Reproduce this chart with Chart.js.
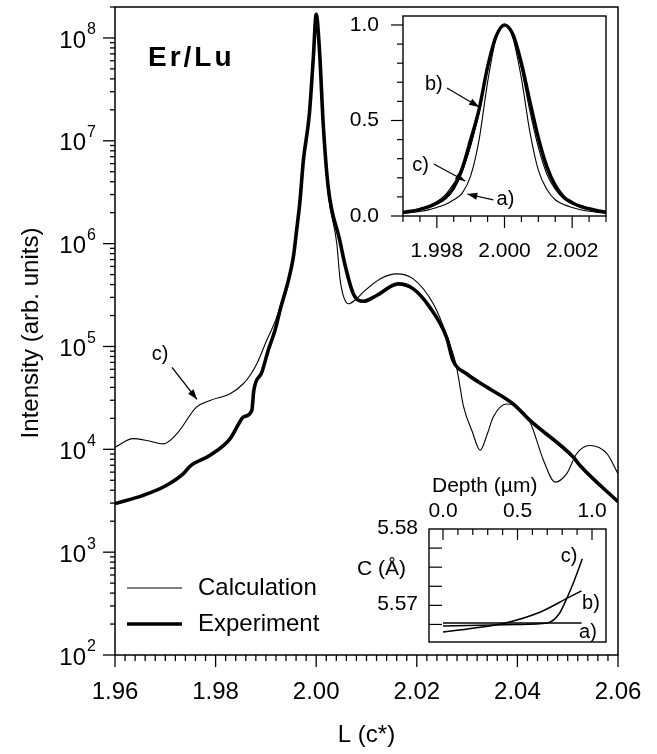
<!DOCTYPE html>
<html>
<head>
<meta charset="utf-8">
<title>Er/Lu</title>
<script src="https://cdn.jsdelivr.net/npm/chart.js@4.4.1/dist/chart.umd.min.js"></script>
<style>
  body { margin: 0; background: #fff; }
  #wrap { position: relative; width: 657px; height: 754px; }
  #wrap canvas { position: absolute; }
</style>
</head>
<body>
<div id="wrap">
  <canvas id="main" width="657" height="754" style="left:0;top:0"></canvas>
  <canvas id="peak" width="290" height="270" style="left:340px;top:0"></canvas>
  <canvas id="depth" width="290" height="190" style="left:340px;top:465px"></canvas>
</div>
<script>
// main scan along L (c*), intensity in arb. units
const calcL = [1.9600, 1.9636, 1.9663, 1.9696, 1.9723, 1.9762, 1.9789, 1.9829, 1.9855, 1.9868,
  1.9882, 1.9900, 1.9921, 1.9935, 1.99545, 1.9961, 1.99744, 1.99863, 1.99943, 2.0000,
  2.0007, 2.0014, 2.0024, 2.0041, 2.0047, 2.0054, 2.0064, 2.0080, 2.0094, 2.0127,
  2.0160, 2.0193, 2.0233, 2.0259, 2.0279, 2.0293, 2.0310, 2.0326, 2.0340, 2.0352,
  2.0379, 2.0395, 2.0425, 2.0452, 2.0475, 2.0498, 2.0518, 2.0544, 2.0578, 2.0600];
const calcI = [1.05e4, 1.27e4, 1.22e4, 1.13e4, 1.42e4, 2.57e4, 2.99e4, 3.47e4, 4.34e4, 5.2e4,
  6.8e4, 1.1e5, 1.9e5, 3.2e5, 7.4e5, 1.34e6, 6.4e6, 1.8e7, 6.45e7, 1.7e8,
  7.2e7, 1.3e7, 3.0e6, 1.0e6, 4.7e5, 3.1e5, 2.6e5, 2.9e5, 3.4e5, 4.54e5,
  5.08e5, 4.54e5, 2.59e5, 1.3e5, 6.3e4, 2.6e4, 1.5e4, 9.8e3, 1.4e4, 2.06e4,
  2.76e4, 2.67e4, 1.84e4, 7.8e3, 4.8e3, 5.8e3, 9.1e3, 1.09e4, 9.1e3, 5.8e3];
const expL = [1.9600, 1.9656, 1.9700, 1.9736, 1.9749, 1.9789, 1.9829, 1.9848, 1.9855, 1.9872,
  1.9876, 1.9892, 1.9905, 1.9918, 1.9928, 1.99446, 1.99545, 1.9961, 1.99678, 1.99744,
  1.99863, 1.99943, 2.0000, 2.00066, 2.0014, 2.0024, 2.0047, 2.0057, 2.0074, 2.0094,
  2.0120, 2.0163, 2.0193, 2.0226, 2.0259, 2.0272, 2.0299, 2.0339, 2.0392, 2.0425,
  2.0511, 2.0524, 2.0600];
const expI = [2970, 3570, 4400, 5810, 6840, 8750, 12700, 18400, 20600, 23900,
  37400, 56200, 9.3e4, 1.43e5, 2.24e5, 4.37e5, 7.36e5, 1.34e6, 2.61e6, 6.4e6,
  1.8e7, 6.45e7, 1.7e8, 7.5e7, 1.44e7, 3.5e6, 1.07e6, 6.3e5, 3.24e5, 2.75e5,
  3.13e5, 4.06e5, 3.63e5, 2.40e5, 1.23e5, 7.3e4, 5.43e4, 4.03e4, 2.75e4, 1.91e4,
  8.4e3, 7.0e3, 3.09e3];
const xTicks = [1.96, 1.98, 2.00, 2.02, 2.04, 2.06];
const yExps = [2, 3, 4, 5, 6, 7, 8];

// upper inset: normalised peak around L = 2
const peakL = [1.99700, 1.99725, 1.99750, 1.99775, 1.99800, 1.99825, 1.99850, 1.99875, 1.99900, 1.99925,
  1.99950, 1.99975, 2.00000, 2.00025, 2.00050, 2.00075, 2.00100, 2.00125, 2.00150, 2.00175,
  2.00200, 2.00225, 2.00250, 2.00275, 2.00300];
const peakExp = [0.020, 0.025, 0.035, 0.048, 0.068, 0.095, 0.15, 0.25, 0.40, 0.56,
  0.78, 0.94, 1.00, 0.95, 0.80, 0.60, 0.41, 0.26, 0.16, 0.10,
  0.070, 0.050, 0.038, 0.028, 0.020];
const peakA = [0.014, 0.018, 0.024, 0.032, 0.045, 0.06, 0.085, 0.12, 0.21, 0.40,
  0.70, 0.93, 1.00, 0.93, 0.72, 0.44, 0.24, 0.14, 0.085, 0.06,
  0.045, 0.033, 0.025, 0.019, 0.015];
const peakB = [0.018, 0.023, 0.032, 0.044, 0.062, 0.088, 0.14, 0.23, 0.37, 0.54,
  0.77, 0.94, 1.00, 0.94, 0.77, 0.55, 0.36, 0.22, 0.14, 0.09,
  0.063, 0.045, 0.034, 0.025, 0.018];
const peakC = [0.022, 0.028, 0.038, 0.052, 0.075, 0.11, 0.17, 0.24, 0.37, 0.55,
  0.78, 0.94, 1.00, 0.95, 0.79, 0.58, 0.39, 0.24, 0.15, 0.095,
  0.066, 0.048, 0.036, 0.027, 0.020];
const peakTicks = [1.998, 2.000, 2.002];
const peakYTicks = [0.0, 0.5, 1.0];

// lower inset: lattice parameter C (Å) against depth (µm)
const depthA = [0.0, 0.93];
const cA = [5.5677, 5.5677];
const depthB = [0.0, 0.2, 0.42, 0.65, 0.85, 0.93];
const cB = [5.5665, 5.5670, 5.5677, 5.5691, 5.5711, 5.5719];
const depthC = [0.0, 0.5, 0.70, 0.78, 0.835, 0.88, 0.935];
const cC = [5.5673, 5.5675, 5.5677, 5.5689, 5.5711, 5.5732, 5.5761];
const depthTicks = [0.0, 0.5, 1.0];
const cTicks = [5.57, 5.58];

const FONT = '"Liberation Sans", Arial, Helvetica, sans-serif';

function seg(ctx, x1, y1, x2, y2) {
  ctx.beginPath(); ctx.moveTo(x1, y1); ctx.lineTo(x2, y2); ctx.stroke();
}

function arrow(ctx, x1, y1, x2, y2) {
  seg(ctx, x1, y1, x2, y2);
  const a = Math.atan2(y2 - y1, x2 - x1), h = 10, w = 3.5;
  ctx.beginPath();
  ctx.moveTo(x2, y2);
  ctx.lineTo(x2 - h * Math.cos(a) + w * Math.sin(a), y2 - h * Math.sin(a) - w * Math.cos(a));
  ctx.lineTo(x2 - h * Math.cos(a) - w * Math.sin(a), y2 - h * Math.sin(a) + w * Math.cos(a));
  ctx.closePath(); ctx.fill();
}

function pts(xs, ys) { return xs.map((x, i) => ({ x: x, y: ys[i] })); }

function curve(label, xs, ys, width) {
  return { label: label, data: pts(xs, ys), borderColor: '#000', borderWidth: width,
    pointRadius: 0, fill: false, cubicInterpolationMode: 'monotone' };
}

// scales drawn by hand in the plugins, Chart.js only does the mapping
function bareScale(type, min, max, fit) {
  return { type: type, min: min, max: max, afterFit: fit,
    ticks: { display: false }, grid: { display: false }, border: { display: false } };
}

function baseOptions(pad, xs, ys) {
  return { responsive: false, animation: false, layout: { padding: pad },
    plugins: { legend: { display: false }, tooltip: { enabled: false } },
    scales: { x: xs, y: ys } };
}

const mainDeco = {
  id: 'mainDeco',
  afterDraw(chart) {
    const ctx = chart.ctx, a = chart.chartArea, x = chart.scales.x, y = chart.scales.y;
    ctx.save();
    ctx.strokeStyle = '#000'; ctx.fillStyle = '#000';
    ctx.lineWidth = 1.5;
    ctx.strokeRect(a.left, a.top, a.right - a.left, a.bottom - a.top);
    ctx.lineWidth = 1.3;
    for (let i = 0; i <= 50; i++) {
      const px = x.getPixelForValue(1.96 + i * 0.002);
      seg(ctx, px, a.bottom, px, a.bottom + (i % 10 ? 6 : 12));
    }
    for (let d = 2; d <= 8; d++) {
      for (let m = 1; m <= 9; m++) {
        const v = m * Math.pow(10, d);
        if (v > y.max) break;
        const py = y.getPixelForValue(v);
        seg(ctx, a.left, py, a.left - (m === 1 ? 12 : 5), py);
      }
    }
    ctx.textBaseline = 'middle';
    ctx.font = '24px ' + FONT; ctx.textAlign = 'center';
    xTicks.forEach(t => ctx.fillText(t.toFixed(2), x.getPixelForValue(t), a.bottom + 37));
    yExps.forEach(e => {
      const py = y.getPixelForValue(Math.pow(10, e));
      ctx.font = '24px ' + FONT; ctx.textAlign = 'right';
      ctx.fillText('10', a.left - 29, py + 3);
      ctx.font = '16px ' + FONT; ctx.textAlign = 'left';
      ctx.fillText(String(e), a.left - 28, py - 8);
    });
    // axis titles
    ctx.font = '24px ' + FONT; ctx.textAlign = 'center';
    ctx.fillText('L (c*)', (a.left + a.right) / 2, 735);
    ctx.save();
    ctx.translate(31, 333); ctx.rotate(-Math.PI / 2);
    ctx.fillText('Intensity (arb. units)', 0, 0);
    ctx.restore();
    // sample label
    ctx.font = 'bold 28px ' + FONT; ctx.textAlign = 'left';
    ctx.letterSpacing = '3px';
    ctx.fillText('Er/Lu', a.left + 33, 58);
    ctx.letterSpacing = '0px';
    // legend
    ctx.font = '24px ' + FONT;
    chart.data.datasets.forEach((ds, i) => {
      const yy = 588 + i * 36;
      ctx.lineWidth = ds.borderWidth;
      seg(ctx, a.left + 12, yy, a.left + 67, yy);
      ctx.fillText(ds.label, a.left + 83, yy);
    });
    // c) pointer
    ctx.lineWidth = 1.3;
    ctx.font = '20px ' + FONT; ctx.textAlign = 'center';
    ctx.fillText('c)', x.getPixelForValue(1.96895), y.getPixelForValue(8.4e4));
    arrow(ctx, x.getPixelForValue(1.97133), y.getPixelForValue(6.25e4),
      x.getPixelForValue(1.9763), y.getPixelForValue(3.06e4));
    ctx.restore();
  }
};

new Chart(document.getElementById('main'), {
  type: 'line',
  data: { datasets: [
    curve('Calculation', calcL, calcI, 1.1),
    curve('Experiment', expL, expI, 3.6)
  ] },
  options: baseOptions({ top: 7, right: 39, left: 0, bottom: 0 },
    bareScale('linear', 1.96, 2.06, s => { s.height = 99; }),
    bareScale('logarithmic', 100, 2e8, s => { s.width = 115; })),
  plugins: [mainDeco]
});

const peakDeco = {
  id: 'peakDeco',
  afterDraw(chart) {
    const ctx = chart.ctx, a = chart.chartArea, x = chart.scales.x, y = chart.scales.y;
    ctx.save();
    ctx.strokeStyle = '#000'; ctx.fillStyle = '#000';
    ctx.lineWidth = 1.4;
    ctx.strokeRect(a.left, a.top, a.right - a.left, a.bottom - a.top);
    ctx.lineWidth = 1.2;
    for (let i = 0; i <= 12; i++) {
      const px = x.getPixelForValue(1.997 + i * 0.0005);
      seg(ctx, px, a.bottom, px, a.bottom + ((i - 2) % 4 === 0 ? 12 : 6));
    }
    for (let i = 0; i <= 10; i++) {
      const py = y.getPixelForValue(i * 0.1);
      seg(ctx, a.left, py, a.left - (i % 5 === 0 ? 12 : 6), py);
    }
    ctx.font = '21px ' + FONT; ctx.textBaseline = 'middle';
    ctx.textAlign = 'center';
    peakTicks.forEach(t => ctx.fillText(t.toFixed(3), x.getPixelForValue(t), a.bottom + 35));
    ctx.textAlign = 'right';
    peakYTicks.forEach(t => ctx.fillText(t.toFixed(1), a.left - 24, y.getPixelForValue(t)));
    // curve labels
    ctx.font = '20px ' + FONT; ctx.textAlign = 'center';
    const P = (l, v) => [x.getPixelForValue(l), y.getPixelForValue(v)];
    ctx.fillText('b)', ...P(1.99791, 0.691));
    arrow(ctx, ...P(1.9983, 0.67), ...P(1.99925, 0.571));
    ctx.fillText('c)', ...P(1.99752, 0.267));
    arrow(ctx, ...P(1.99791, 0.272), ...P(1.99884, 0.183));
    ctx.fillText('a)', ...P(2.00003, 0.084));
    arrow(ctx, ...P(1.99967, 0.084), ...P(1.9989, 0.115));
    ctx.restore();
  }
};

new Chart(document.getElementById('peak'), {
  type: 'line',
  data: { datasets: [
    curve('a', peakL, peakA, 1.1),
    curve('b', peakL, peakB, 1.1),
    curve('c', peakL, peakC, 1.1),
    curve('exp', peakL, peakExp, 3.4)
  ] },
  options: baseOptions({ top: 16, right: 24, left: 0, bottom: 0 },
    bareScale('linear', 1.997, 2.003, s => { s.height = 54; }),
    bareScale('linear', 0, 1.047, s => { s.width = 63; })),
  plugins: [peakDeco]
});

const depthDeco = {
  id: 'depthDeco',
  afterDraw(chart) {
    const ctx = chart.ctx, a = chart.chartArea, x = chart.scales.x, y = chart.scales.y;
    ctx.save();
    ctx.strokeStyle = '#000'; ctx.fillStyle = '#000';
    ctx.lineWidth = 1.4;
    ctx.strokeRect(a.left, a.top, a.right - a.left, a.bottom - a.top);
    ctx.lineWidth = 1.2;
    for (let i = 0; i <= 10; i++) {
      const px = x.getPixelForValue(i * 0.1);
      seg(ctx, px, a.top, px, a.top + (i % 5 === 0 ? 11 : 6));
    }
    for (let i = 1; i <= 5; i++) {
      const py = y.getPixelForValue(5.565 + i * 0.0025);
      seg(ctx, a.left, py, a.left + 13, py);
    }
    ctx.font = '21px ' + FONT; ctx.textBaseline = 'middle';
    ctx.textAlign = 'center';
    depthTicks.forEach(t => ctx.fillText(t.toFixed(1), x.getPixelForValue(t), a.top - 18));
    ctx.fillText('Depth (\u00b5m)', x.getPixelForValue(0.28), a.top - 43);
    ctx.textAlign = 'right';
    cTicks.forEach(t => ctx.fillText(t.toFixed(2), a.left - 11, y.getPixelForValue(t) - 1));
    ctx.textAlign = 'left';
    ctx.fillText('C (\u00c5)', 17, y.getPixelForValue(5.5747));
    ctx.font = '20px ' + FONT; ctx.textAlign = 'center';
    ctx.fillText('c)', x.getPixelForValue(0.846), y.getPixelForValue(5.5764));
    ctx.fillText('b)', x.getPixelForValue(0.993), y.getPixelForValue(5.5703));
    ctx.fillText('a)', x.getPixelForValue(0.973), y.getPixelForValue(5.5664));
    ctx.restore();
  }
};

new Chart(document.getElementById('depth'), {
  type: 'line',
  data: { datasets: [
    curve('a', depthA, cA, 1.5),
    curve('b', depthB, cB, 1.5),
    curve('c', depthC, cC, 1.5)
  ] },
  options: baseOptions({ top: 64, right: 24, left: 0, bottom: 0 },
    bareScale('linear', -0.094, 1.094, s => { s.height = 13; }),
    bareScale('linear', 5.5652, 5.58, s => { s.width = 89; })),
  plugins: [depthDeco]
});
</script>
</body>
</html>
